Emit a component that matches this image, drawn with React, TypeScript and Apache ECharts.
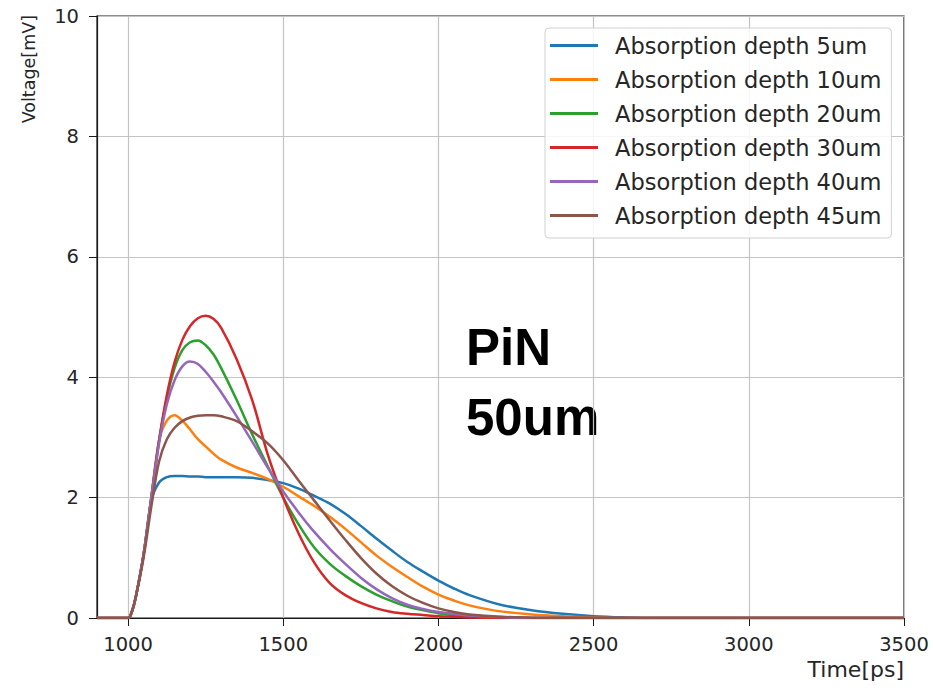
import React, { useEffect, useRef } from "react";
import * as echarts from "echarts";

const times = [900, 1000, 1012, 1025, 1050, 1075, 1100, 1125, 1150, 1175, 1200, 1225, 1250, 1275, 1300, 1350, 1400, 1450, 1500, 1550, 1600, 1650, 1700, 1750, 1800, 1850, 1900, 1950, 2000, 2050, 2100, 2200, 2300, 2400, 2500, 2600, 2700, 3500];

const depth5 = [0, 0, 0.1, 0.35, 1.05, 1.95, 2.25, 2.34, 2.36, 2.36, 2.35, 2.35, 2.34, 2.34, 2.34, 2.34, 2.33, 2.29, 2.24, 2.15, 2.03, 1.9, 1.73, 1.53, 1.32, 1.12, 0.93, 0.77, 0.62, 0.49, 0.38, 0.22, 0.13, 0.07, 0.03, 0.01, 0, 0];
const depth10 = [0, 0, 0.1, 0.35, 1.05, 2.0, 2.95, 3.28, 3.37, 3.28, 3.13, 2.97, 2.85, 2.73, 2.63, 2.5, 2.41, 2.31, 2.18, 2.02, 1.86, 1.68, 1.48, 1.26, 1.04, 0.85, 0.68, 0.52, 0.39, 0.29, 0.21, 0.11, 0.06, 0.03, 0.01, 0, 0, 0];
const depth20 = [0, 0, 0.1, 0.35, 1.05, 2.0, 2.95, 3.65, 4.15, 4.45, 4.58, 4.61, 4.53, 4.38, 4.15, 3.62, 3.05, 2.52, 2.0, 1.55, 1.17, 0.9, 0.7, 0.53, 0.39, 0.28, 0.19, 0.13, 0.08, 0.05, 0.03, 0.01, 0, 0, 0, 0, 0, 0];
const depth30 = [0, 0, 0.1, 0.35, 1.05, 2.0, 2.95, 3.7, 4.25, 4.62, 4.85, 4.98, 5.02, 4.97, 4.82, 4.3, 3.62, 2.72, 2.0, 1.4, 0.92, 0.58, 0.38, 0.25, 0.16, 0.1, 0.07, 0.05, 0.03, 0.02, 0.01, 0, 0, 0, 0, 0, 0, 0];
const depth40 = [0, 0, 0.1, 0.35, 1.05, 2.0, 2.9, 3.55, 3.95, 4.18, 4.26, 4.22, 4.09, 3.93, 3.75, 3.35, 2.93, 2.5, 2.1, 1.75, 1.43, 1.15, 0.9, 0.67, 0.48, 0.33, 0.22, 0.15, 0.1, 0.07, 0.04, 0.015, 0, 0, 0, 0, 0, 0];
const depth45 = [0, 0, 0.1, 0.35, 1.0, 1.85, 2.6, 2.97, 3.16, 3.27, 3.33, 3.36, 3.37, 3.37, 3.35, 3.27, 3.1, 2.9, 2.62, 2.28, 1.95, 1.62, 1.3, 1.0, 0.74, 0.53, 0.37, 0.25, 0.16, 0.1, 0.06, 0.02, 0.005, 0, 0, 0, 0, 0];

const seriesNames = [
  "Absorption depth 5um",
  "Absorption depth 10um",
  "Absorption depth 20um",
  "Absorption depth 30um",
  "Absorption depth 40um",
  "Absorption depth 45um",
];
const seriesValues = [depth5, depth10, depth20, depth30, depth40, depth45];
const colors = ["#1f77b4", "#ff7f0e", "#2ca02c", "#d62728", "#9467bd", "#8c564b"];

const xTicks = [1000, 1500, 2000, 2500, 3000, 3500];
const xMin = 900;
const xMax = 3500;
const yMin = 0;
const yMax = 10;
const yInterval = 2;

const annotationLines = ["PiN", "50um"];
const xName = "Time[ps]";
const yName = "Voltage[mV]";

export default function App() {
  const ref = useRef<HTMLDivElement>(null);

  useEffect(() => {
    if (!ref.current) return;
    const chart = echarts.init(ref.current, null, { renderer: "svg" });
    const tickColor = "#262626";
    const gridColor = "#c4c4c4";

    chart.setOption({
      animation: false,
      backgroundColor: "#ffffff",
      color: colors,
      grid: {
        left: 97,
        right: 29,
        top: 16,
        bottom: 75,
        show: true,
        borderColor: "#1a1a1a",
        borderWidth: 1.2,
        backgroundColor: "transparent",
      },
      legend: {
        orient: "vertical",
        left: 545,
        top: 28,
        padding: [6, 10, 11, 5],
        itemWidth: 48,
        itemHeight: 3,
        itemGap: 11,
        icon: "rect",
        backgroundColor: "rgba(255,255,255,0.85)",
        borderColor: "#d0d0d0",
        borderWidth: 1,
        borderRadius: 4,
        textStyle: {
          fontFamily: "DejaVu Sans",
          fontSize: 22.5,
          color: "#262626",
          lineHeight: 23,
          padding: [0, 0, 0, 12],
        },
        data: seriesNames,
      },
      xAxis: {
        type: "value",
        min: xMin,
        max: xMax,
        name: xName,
        nameLocation: "end",
        nameGap: 0,
        nameTextStyle: {
          fontFamily: "DejaVu Sans",
          fontSize: 22,
          color: tickColor,
          align: "right",
          verticalAlign: "top",
          padding: [40, 0, 0, 0],
        },
        axisLine: { show: true, onZero: false, lineStyle: { color: "#1a1a1a", width: 1.2 } },
        axisTick: {
          show: true,
          length: 8,
          inside: false,
          customValues: xTicks,
          lineStyle: { color: "#1a1a1a", width: 1 },
        },
        axisLabel: {
          customValues: xTicks,
          formatter: (v: number) => String(v),
          fontFamily: "DejaVu Sans",
          fontSize: 19.5,
          color: tickColor,
          margin: 16,
        },
        splitLine: { show: true, lineStyle: { color: gridColor, width: 1.2 } },
      },
      yAxis: {
        type: "value",
        min: yMin,
        max: yMax,
        interval: yInterval,
        axisLine: { show: true, lineStyle: { color: "#1a1a1a", width: 1.2 } },
        axisTick: { show: true, length: 8, inside: false, lineStyle: { color: "#1a1a1a", width: 1 } },
        axisLabel: {
          formatter: (v: number) => String(v),
          fontFamily: "DejaVu Sans",
          fontSize: 19.5,
          color: tickColor,
          margin: 18,
        },
        splitLine: { show: true, lineStyle: { color: gridColor, width: 1.2 } },
      },
      graphic: [
        {
          type: "text",
          x: 29,
          y: 15,
          rotation: Math.PI / 2,
          style: {
            text: yName,
            fontFamily: "DejaVu Sans",
            fontSize: 17.5,
            fill: tickColor,
            align: "right",
            verticalAlign: "middle",
          },
        },
        {
          type: "text",
          x: 466,
          y: 347,
          style: {
            text: annotationLines[0],
            fontFamily: "Liberation Sans",
            fontWeight: "bold",
            fontSize: 51,
            fill: "#000000",
            align: "left",
            verticalAlign: "middle",
          },
        },
        {
          type: "text",
          x: 466,
          y: 417,
          style: {
            text: annotationLines[1],
            fontFamily: "Liberation Sans",
            fontWeight: "bold",
            fontSize: 51,
            fill: "#000000",
            align: "left",
            verticalAlign: "middle",
          },
        },
      ],
      series: seriesNames.map((name, i) => ({
        name,
        type: "line",
        data: times.map((t, j) => [t, seriesValues[i][j]]),
        smooth: 0.35,
        symbol: "none",
        lineStyle: { width: 2.5, color: colors[i] },
        itemStyle: { color: colors[i] },
        z: 3 + i,
      })),
    });

    return () => chart.dispose();
  }, []);

  return (
    <div
      ref={ref}
      style={{ position: "absolute", left: 0, top: 0, width: 933, height: 693 }}
    />
  );
}
